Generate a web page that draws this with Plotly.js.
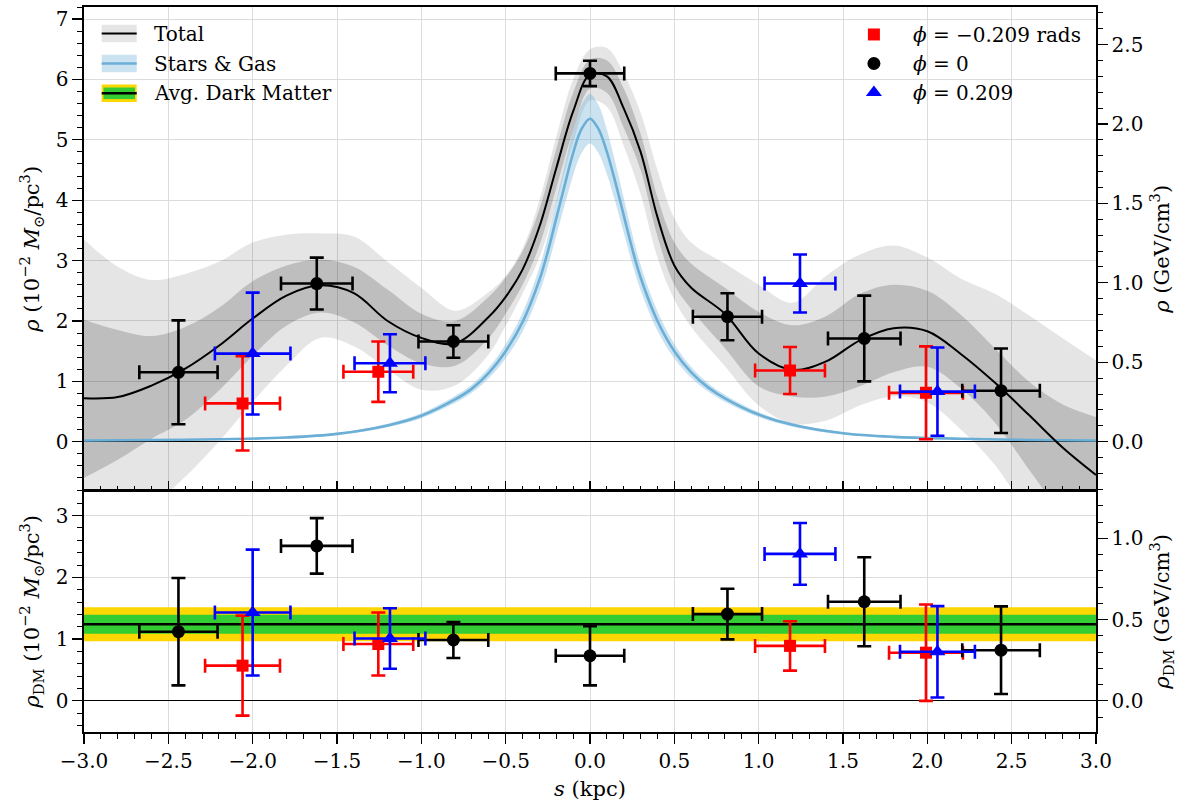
<!DOCTYPE html>
<html>
<head>
<meta charset="utf-8">
<script src="https://cdn.plot.ly/plotly-3.0.1.min.js"></script>
<style>html,body{margin:0;padding:0;background:#fff;}#chart{width:1194px;height:809px;}</style>
</head>
<body>
<div id="chart"></div>
<script>
// ---------- Data ----------
// Total density model (10^-2 Msun/pc^3) on a grid of s (kpc)
const sGrid = [-3.0,-2.8,-2.6,-2.4,-2.2,-2.0,-1.8,-1.6,-1.4,-1.2,-1.0,-0.8,-0.6,-0.5,-0.4,-0.3,-0.2,-0.1,0.0,0.1,0.2,0.3,0.4,0.5,0.6,0.8,1.0,1.2,1.4,1.6,1.8,2.0,2.2,2.4,2.6,2.8,3.0];
const totalMean = [0.72,0.74,0.93,1.21,1.59,2.04,2.42,2.59,2.46,2.00,1.72,1.63,2.07,2.40,2.85,3.56,4.53,5.47,6.08,6.05,5.52,4.80,3.72,2.92,2.55,2.12,1.46,1.19,1.33,1.68,1.88,1.83,1.45,0.98,0.45,-0.09,-0.55];
const total1Hi = [2.02,1.85,1.75,1.90,2.22,2.66,2.92,3.02,2.90,2.52,2.12,2.00,2.40,2.72,3.15,3.85,4.85,5.78,6.33,6.32,5.85,5.10,4.05,3.30,2.95,2.55,2.15,1.93,2.08,2.45,2.60,2.50,2.10,1.55,1.00,0.62,0.41];
const total1Lo = [-0.60,-0.30,0.05,0.36,0.85,1.42,1.92,2.14,1.98,1.60,1.30,1.26,1.72,2.12,2.60,3.25,4.20,5.15,5.85,5.78,5.20,4.50,3.40,2.60,2.20,1.55,0.92,0.75,0.75,0.92,1.15,1.24,0.88,0.32,-0.45,-1.20,-1.80];
const total2Hi = [3.35,2.90,2.68,2.78,2.98,3.30,3.43,3.45,3.40,2.98,2.55,2.17,2.48,2.75,3.20,4.00,5.05,6.00,6.50,6.52,6.10,5.45,4.50,3.70,3.30,2.95,2.60,2.30,2.75,3.10,3.25,3.05,2.70,2.45,2.10,1.72,1.35];
const total2Lo = [-1.50,-1.30,-1.05,-0.58,0.00,0.66,1.26,1.72,1.58,1.20,0.86,0.93,1.45,1.92,2.45,3.05,3.95,4.95,5.65,5.55,4.90,4.10,3.05,2.35,1.90,1.25,0.60,0.30,0.35,0.60,0.75,0.65,0.20,-0.38,-1.20,-1.90,-2.50];

// Stars & gas
const sgGrid = [-3.0,-2.6,-2.2,-1.8,-1.5,-1.2,-1.0,-0.8,-0.7,-0.6,-0.5,-0.4,-0.3,-0.25,-0.2,-0.15,-0.1,-0.05,0.0,0.05,0.1,0.15,0.2,0.25,0.3,0.4,0.5,0.6,0.7,0.8,1.0,1.2,1.5,1.8,2.2,2.6,3.0];
const sgMean = [0.02,0.03,0.04,0.07,0.13,0.27,0.43,0.70,0.88,1.14,1.50,1.98,2.68,3.15,3.70,4.25,4.78,5.18,5.35,5.18,4.80,4.30,3.75,3.20,2.72,2.00,1.50,1.15,0.90,0.72,0.45,0.28,0.14,0.08,0.05,0.03,0.02];
const sgHi = [0.03,0.04,0.05,0.085,0.15,0.30,0.47,0.76,0.95,1.23,1.62,2.14,2.89,3.40,3.99,4.58,5.15,5.58,5.76,5.58,5.17,4.63,4.04,3.45,2.93,2.16,1.62,1.24,0.97,0.78,0.49,0.31,0.16,0.095,0.06,0.04,0.03];
const sgLo = [0.01,0.02,0.03,0.055,0.11,0.24,0.39,0.64,0.81,1.05,1.38,1.82,2.47,2.90,3.41,3.92,4.41,4.78,4.94,4.78,4.43,3.97,3.46,2.95,2.51,1.84,1.38,1.06,0.83,0.66,0.41,0.25,0.12,0.065,0.04,0.02,0.01];

// Average dark matter density (bottom panel)
const dmEdges = [-3.0, 3.0];
const dmMean = [1.24, 1.24];
const dm1Lo = [1.085, 1.085];
const dm1Hi = [1.395, 1.395];
const dm2Lo = [0.965, 0.965];
const dm2Hi = [1.515, 1.515];

// Measurements: phi = -0.209 rads (red squares)
const redS = [-2.06, -1.255, 1.186, 1.992];
const redSErr = [0.222, 0.207, 0.207, 0.219];
const redRho = [0.635, 1.16, 1.18, 0.81];
const redRhoErr = [0.78, 0.50, 0.39, 0.77];
const redDM = [0.57, 0.92, 0.89, 0.78];
const redDMErr = [0.81, 0.51, 0.40, 0.78];
// phi = 0 (black circles)
const blkS = [-2.44, -1.62, -0.81, 0.0, 0.815, 1.626, 2.437];
const blkSErr = [0.232, 0.212, 0.207, 0.203, 0.205, 0.215, 0.23];
const blkRho = [1.15, 2.62, 1.66, 6.10, 2.07, 1.71, 0.845];
const blkRhoErr = [0.86, 0.43, 0.27, 0.21, 0.39, 0.71, 0.70];
const blkDM = [1.12, 2.51, 0.985, 0.73, 1.405, 1.605, 0.82];
const blkDMErr = [0.87, 0.45, 0.29, 0.48, 0.41, 0.72, 0.71];
// phi = 0.209 (blue triangles)
const bluS = [-2.0, -1.186, 1.245, 2.06];
const bluSErr = [0.224, 0.21, 0.21, 0.222];
const bluRho = [1.46, 1.30, 2.62, 0.83];
const bluRhoErr = [1.01, 0.48, 0.48, 0.73];
const bluDM = [1.43, 1.01, 2.38, 0.795];
const bluDMErr = [1.02, 0.49, 0.50, 0.74];

const GEV_PER_UNIT = 0.38; // 10^-2 Msun/pc^3 -> GeV/cm^3

// ---------- Traces ----------
const FONT = 'DejaVu Serif';
function band(x, lo, hi, color, xa, ya) {
  return [
    {x: x, y: lo, xaxis: xa, yaxis: ya, mode: 'lines', line: {width: 0, shape: 'spline', smoothing: 1}, showlegend: false, hoverinfo: 'skip'},
    {x: x, y: hi, xaxis: xa, yaxis: ya, mode: 'lines', line: {width: 0, shape: 'spline', smoothing: 1}, fill: 'tonexty', fillcolor: color, showlegend: false, hoverinfo: 'skip'}
  ];
}
function pts(x, xe, y, ye, color, symbol, size, name, xa, ya, showleg) {
  return {
    x: x, y: y, xaxis: xa, yaxis: ya, mode: 'markers', name: name, showlegend: showleg, legend: 'legend', legendgroup: name,
    marker: {color: color, symbol: symbol, size: size, line: {width: 0}},
    error_x: {type: 'data', array: xe, color: color, thickness: 2.6, width: 7},
    error_y: {type: 'data', array: ye, color: color, thickness: 2.6, width: 7}
  };
}
let traces = [];
traces = traces.concat(band(sGrid, total2Lo, total2Hi, 'rgba(0,0,0,0.10)', 'x2', 'y2'));
traces = traces.concat(band(sGrid, total1Lo, total1Hi, 'rgba(0,0,0,0.17)', 'x2', 'y2'));
traces = traces.concat(band(sgGrid, sgLo, sgHi, 'rgba(107,174,214,0.35)', 'x2', 'y2'));
traces.push({x: sgGrid, y: sgMean, xaxis: 'x2', yaxis: 'y2', mode: 'lines', line: {color: 'rgb(107,174,214)', width: 2.6, shape: 'spline', smoothing: 1}, showlegend: false, hoverinfo: 'skip'});
traces.push({x: sGrid, y: totalMean, xaxis: 'x2', yaxis: 'y2', mode: 'lines', line: {color: '#000', width: 2, shape: 'spline', smoothing: 1}, showlegend: false, hoverinfo: 'skip'});
traces.push(pts(redS, redSErr, redRho, redRhoErr, '#ff0000', 'square', 12, '<i>ϕ</i> = −0.209 rads', 'x2', 'y2', true));
traces.push(pts(blkS, blkSErr, blkRho, blkRhoErr, '#000000', 'circle', 13, '<i>ϕ</i> = 0', 'x2', 'y2', true));
traces.push(pts(bluS, bluSErr, bluRho, bluRhoErr, '#0000ff', 'triangle-up', 14, '<i>ϕ</i> = 0.209', 'x2', 'y2', true));

traces = traces.concat(band(dmEdges, dm2Lo, dm2Hi, '#ffd700', 'x', 'y'));
traces = traces.concat(band(dmEdges, dm1Lo, dm1Hi, '#33cc33', 'x', 'y'));
traces.push({x: dmEdges, y: dmMean, xaxis: 'x', yaxis: 'y', mode: 'lines', line: {color: '#000', width: 2.6}, showlegend: false, hoverinfo: 'skip'});
traces.push(pts(redS, redSErr, redDM, redDMErr, '#ff0000', 'square', 12, 'red', 'x', 'y', false));
traces.push(pts(blkS, blkSErr, blkDM, blkDMErr, '#000000', 'circle', 13, 'black', 'x', 'y', false));
traces.push(pts(bluS, bluSErr, bluDM, bluDMErr, '#0000ff', 'triangle-up', 14, 'blue', 'x', 'y', false));
// right-hand (GeV/cm^3) axes carriers
traces.push({x: [null], y: [null], xaxis: 'x', yaxis: 'y3', mode: 'lines', showlegend: false, hoverinfo: 'skip'});
traces.push({x: [null], y: [null], xaxis: 'x2', yaxis: 'y4', mode: 'lines', showlegend: false, hoverinfo: 'skip'});

// ---------- Layout ----------
const topRange = [-0.81, 7.2];
const botRange = [-0.505, 3.405];
const split = 0.3329;
const gridC = '#dcdcdc';
const tickFont = {family: FONT, size: 20, color: '#000'};
const titleFont = {family: FONT, size: 21, color: '#000'};
const frame = {showline: true, linecolor: '#000', linewidth: 1.6};

const layout = {
  width: 1194, height: 809,
  margin: {l: 84, r: 98, t: 7, b: 77},
  paper_bgcolor: '#fff', plot_bgcolor: '#fff',
  font: {family: FONT, size: 20, color: '#000'},
  showlegend: true,
  legend: {x: 0.742, y: 0.989, xanchor: 'left', yanchor: 'top', bgcolor: 'rgba(0,0,0,0)', borderwidth: 0,
           traceorder: 'normal', itemwidth: 68, itemsizing: 'trace',
           font: {family: FONT, size: 20, color: '#000'}, tracegroupgap: 3},
  xaxis: Object.assign({}, frame, {
    anchor: 'y', range: [-3, 3], dtick: 0.5, tick0: 0, tickformat: '.1f', ticks: 'outside', ticklen: 10, tickwidth: 1.2,
    tickcolor: '#000', tickfont: tickFont, showgrid: true, gridcolor: gridC, gridwidth: 1, zeroline: false, mirror: true,
    minor: {dtick: 0.1, tick0: 0, ticks: 'outside', ticklen: 5, tickwidth: 1, tickcolor: '#000', showgrid: false},
    title: {text: '<i>s</i> (kpc)', font: titleFont, standoff: 10}
  }),
  xaxis2: Object.assign({}, frame, {
    anchor: 'y2', matches: 'x', range: [-3, 3], dtick: 0.5, tick0: 0, ticks: 'inside', ticklen: 10, tickwidth: 1.2,
    tickcolor: '#000', showticklabels: false, showgrid: true, gridcolor: gridC, zeroline: false, mirror: true,
    minor: {dtick: 0.1, tick0: 0, ticks: 'inside', ticklen: 5, tickwidth: 1, tickcolor: '#000', showgrid: false}
  }),
  yaxis: Object.assign({}, frame, {
    domain: [0, split], anchor: 'x', range: botRange, dtick: 1, tick0: 0, ticks: 'outside', ticklen: 10, tickwidth: 1.2,
    tickcolor: '#000', tickfont: tickFont, showgrid: true, gridcolor: gridC, mirror: true,
    zeroline: true, zerolinecolor: '#000', zerolinewidth: 1,
    minor: {dtick: 0.2, tick0: 0, ticks: 'outside', ticklen: 5, tickwidth: 1, tickcolor: '#000', showgrid: false},
    title: {text: '<i>ρ</i><sub>DM</sub> (10<sup>−2</sup> <i>M</i><sub>⊙</sub>/pc<sup>3</sup>)', font: titleFont, standoff: 10}
  }),
  yaxis2: Object.assign({}, frame, {
    domain: [split, 1], anchor: 'x2', range: topRange, dtick: 1, tick0: 0, ticks: 'outside', ticklen: 10, tickwidth: 1.2,
    tickcolor: '#000', tickfont: tickFont, showgrid: true, gridcolor: gridC, mirror: true,
    zeroline: true, zerolinecolor: '#000', zerolinewidth: 1,
    minor: {dtick: 0.2, tick0: 0, ticks: 'outside', ticklen: 5, tickwidth: 1, tickcolor: '#000', showgrid: false},
    title: {text: '<i>ρ</i> (10<sup>−2</sup> <i>M</i><sub>⊙</sub>/pc<sup>3</sup>)', font: titleFont, standoff: 10}
  }),
  yaxis3: Object.assign({}, frame, {
    overlaying: 'y', side: 'right', anchor: 'x', range: [botRange[0] * GEV_PER_UNIT, botRange[1] * GEV_PER_UNIT],
    dtick: 0.5, tick0: 0, tickformat: '.1f', ticks: 'outside', ticklen: 10, tickwidth: 1.2, tickcolor: '#000', tickfont: tickFont,
    showgrid: false, zeroline: false,
    minor: {dtick: 0.1, tick0: 0, ticks: 'outside', ticklen: 5, tickwidth: 1, tickcolor: '#000', showgrid: false},
    title: {text: '<i>ρ</i><sub>DM</sub> (GeV/cm<sup>3</sup>)', font: titleFont, standoff: 12}
  }),
  yaxis4: Object.assign({}, frame, {
    overlaying: 'y2', side: 'right', anchor: 'x2', range: [topRange[0] * GEV_PER_UNIT, topRange[1] * GEV_PER_UNIT],
    dtick: 0.5, tick0: 0, tickformat: '.1f', ticks: 'outside', ticklen: 10, tickwidth: 1.2, tickcolor: '#000', tickfont: tickFont,
    showgrid: false, zeroline: false,
    minor: {dtick: 0.1, tick0: 0, ticks: 'outside', ticklen: 5, tickwidth: 1, tickcolor: '#000', showgrid: false},
    title: {text: '<i>ρ</i> (GeV/cm<sup>3</sup>)', font: titleFont, standoff: 12}
  }),
  shapes: [], annotations: []
};

// Legend for the model curves (band + line icons)
function px(X) { return (X - 84) / 1012; }
function py(Y) { return (732 - Y) / 725; }
const legItems = [
  {label: 'Total', cy: 33.5, box: 'rgb(229,229,229)', inner: null, line: '#000', lw: 2.2},
  {label: 'Stars &amp; Gas', cy: 63.5, box: 'rgb(203,227,241)', inner: null, line: 'rgb(107,174,214)', lw: 2.6},
  {label: 'Avg. Dark Matter', cy: 93.3, box: '#ffd700', inner: '#33cc33', line: '#000', lw: 2.6}
];
legItems.forEach(function (it) {
  layout.shapes.push({type: 'rect', xref: 'paper', yref: 'paper', x0: px(101.7), x1: px(136.7), y0: py(it.cy - 8.7), y1: py(it.cy + 8.7), fillcolor: it.box, line: {width: 0}, layer: 'above'});
  if (it.inner) layout.shapes.push({type: 'rect', xref: 'paper', yref: 'paper', x0: px(103.5), x1: px(135), y0: py(it.cy - 5.8), y1: py(it.cy + 5.8), fillcolor: it.inner, line: {width: 0}, layer: 'above'});
  layout.shapes.push({type: 'line', xref: 'paper', yref: 'paper', x0: px(101.7), x1: px(136.7), y0: py(it.cy), y1: py(it.cy), line: {color: it.line, width: it.lw}, layer: 'above'});
  layout.annotations.push({xref: 'paper', yref: 'paper', x: px(152), y: py(it.cy), xanchor: 'left', yanchor: 'middle', showarrow: false, text: it.label, font: {family: FONT, size: 20, color: '#000'}});
});

Plotly.newPlot('chart', traces, layout, {displayModeBar: false, staticPlot: true});
</script>
</body>
</html>
